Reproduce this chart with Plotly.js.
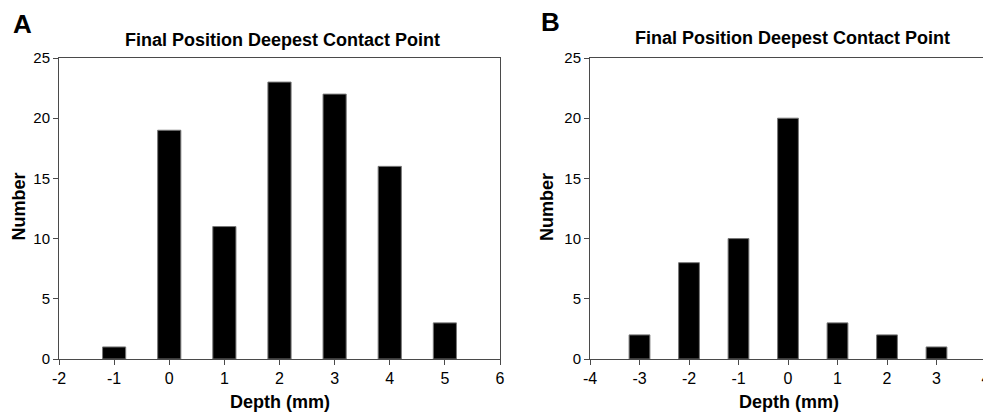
<!DOCTYPE html>
<html>
<head>
<meta charset="utf-8">
<script src="https://cdn.plot.ly/plotly-3.0.1.min.js"></script>
<style>
html,body{margin:0;padding:0;overflow:hidden;background:#fff;width:983px;height:414px;}
#chart{width:1000px;height:414px;}
</style>
</head>
<body>
<div id="chart"></div>
<script>
// Panel A data
const depthA = [-1, 0, 1, 2, 3, 4, 5];
const countA = [1, 19, 11, 23, 22, 16, 3];
// Panel B data
const depthB = [-3, -2, -1, 0, 1, 2, 3];
const countB = [2, 8, 10, 20, 3, 2, 1];
const ticksA = [-2, -1, 0, 1, 2, 3, 4, 5, 6];
const ticksB = [-4, -3, -2, -1, 0, 1, 2, 3, 4];
const yTicks = [0, 5, 10, 15, 20, 25];
const chartTitle = "Final Position Deepest Contact Point";
const xTitle = "Depth (mm)";
const yTitle = "Number";

const W = 1000, H = 414;
const FONT = "Liberation Sans, Arial, sans-serif";
const axisColor = "#4a4a4a";

const barStyle = {type: "bar", width: 0.42, marker: {color: "#000", line: {color: "#777", width: 1}}, hoverinfo: "x+y"};

const traces = [
  Object.assign({x: depthA, y: countA, xaxis: "x", yaxis: "y"}, barStyle),
  Object.assign({x: depthB, y: countB, xaxis: "x2", yaxis: "y2"}, barStyle)
];

function xax(dom, range, ticks) {
  return {domain: dom, range: range, tickvals: ticks, ticktext: ticks.map(String),
    showgrid: false, zeroline: false, showline: true, mirror: true, linecolor: axisColor, linewidth: 1,
    ticks: "outside", ticklen: 5, tickcolor: axisColor, tickfont: {family: FONT, size: 16, color: "#000"}, fixedrange: true};
}
function yax(anchor) {
  return {domain: [55 / H, (H - 58) / H], range: [0, 25], tickvals: yTicks, anchor: anchor,
    showgrid: false, zeroline: false, showline: true, mirror: true, linecolor: axisColor, linewidth: 1,
    ticks: "outside", ticklen: 5, tickcolor: axisColor, tickfont: {family: FONT, size: 15, color: "#000"}, fixedrange: true};
}

const ann = [];
function addText(text, px, py, size, angle) {
  ann.push({text: "<b>" + text + "</b>", x: px / W, y: 1 - py / H, xref: "paper", yref: "paper",
    showarrow: false, xanchor: "center", yanchor: "middle", textangle: angle || 0,
    font: {family: FONT, size: size, color: "#000"}});
}
addText("A", 22, 24, 26);
addText("B", 550, 22, 26);
addText(chartTitle, 282, 40, 18);
addText(chartTitle, 792, 38, 18);
addText(xTitle, 280, 402, 18);
addText(xTitle, 789, 402, 18);
addText(yTitle, 18.5, 207, 18, -90);
addText(yTitle, 547, 207, 18, -90);

const layout = {
  width: W, height: H,
  margin: {l: 0, r: 0, t: 0, b: 0},
  paper_bgcolor: "#fff", plot_bgcolor: "#fff",
  showlegend: false,
  xaxis: Object.assign(xax([59 / W, 500 / W], [-2, 6], ticksA), {anchor: "y"}),
  yaxis: yax("x"),
  xaxis2: Object.assign(xax([590 / W, 986 / W], [-4, 4], ticksB), {anchor: "y2"}),
  yaxis2: yax("x2"),
  annotations: ann
};

Plotly.newPlot("chart", traces, layout, {displayModeBar: false, staticPlot: true});
</script>
</body>
</html>
